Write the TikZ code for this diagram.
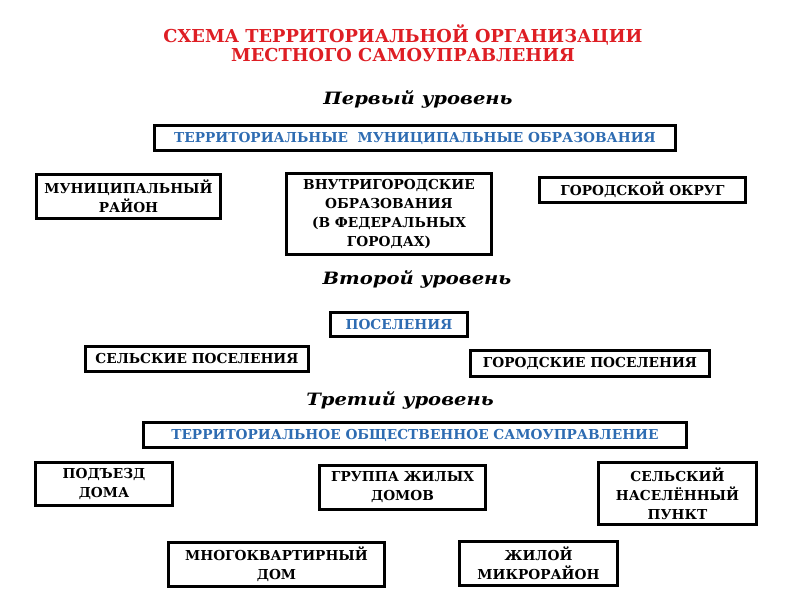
\documentclass[tikz,border=0pt]{standalone}
\usepackage{fontspec}
\setmainfont{DejaVu Serif}
\definecolor{titlered}{RGB}{222,30,36}
\definecolor{boxblue}{RGB}{46,108,178}

\begin{document}
\begin{tikzpicture}[x=1pt,y=-1pt,
  box/.style={draw,line width=2.6pt,inner sep=0pt,align=center,
    font=\bfseries\fontsize{13.7}{19}\selectfont},
  bluebox/.style={box,text=boxblue},
  level/.style={font=\bfseries\itshape\fontsize{17}{20}\selectfont,anchor=base,xscale=1.15}]
\useasboundingbox (0,0) rectangle (800,600);

% title
\node[font=\bfseries\fontsize{17.8}{19}\selectfont,text=titlered,align=center,anchor=base] (T)
  at (403,61) {СХЕМА ТЕРРИТОРИАЛЬНОЙ ОРГАНИЗАЦИИ\\МЕСТНОГО САМОУПРАВЛЕНИЯ};

% first level
\node[level] (L1) at (418,104) {Первый уровень};
\node[bluebox,minimum width=521.5,minimum height=25.5] (A) at (415,138)
  {ТЕРРИТОРИАЛЬНЫЕ\ \ МУНИЦИПАЛЬНЫЕ ОБРАЗОВАНИЯ};
\node[box,minimum width=184.5,minimum height=44.5] (A1) at (128.5,196.5)
  {МУНИЦИПАЛЬНЫЙ\\РАЙОН};
\node[box,minimum width=205.5,minimum height=81.5] (A2) at (389,214)
  {ВНУТРИГОРОДСКИЕ\\ОБРАЗОВАНИЯ\\(В ФЕДЕРАЛЬНЫХ\\ГОРОДАХ)};
\node[box,minimum width=206.5,minimum height=25.5] (A3) at (642.5,190)
  {ГОРОДСКОЙ ОКРУГ};

% second level
\node[level] (L2) at (417,284) {Второй уровень};
\node[bluebox,minimum width=137.5,minimum height=24.5] (B) at (399,324.5)
  {ПОСЕЛЕНИЯ};
\node[box,minimum width=223.5,minimum height=25.5] (B1) at (197,359)
  {СЕЛЬСКИЕ ПОСЕЛЕНИЯ};
\node[box,minimum width=239.5,minimum height=26.5] (B2) at (590,363.5)
  {ГОРОДСКИЕ ПОСЕЛЕНИЯ};

% third level
\node[level] (L3) at (400,405) {Третий уровень};
\node[bluebox,minimum width=543.5,minimum height=25.5] (C) at (415,435)
  {ТЕРРИТОРИАЛЬНОЕ ОБЩЕСТВЕННОЕ САМОУПРАВЛЕНИЕ};
\node[box,minimum width=137.5,minimum height=43.5] (C1) at (104,484)
  {ПОДЪЕЗД\\ДОМА};
\node[box,minimum width=166.5,minimum height=44.5] (C2) at (402.5,487.5)
  {ГРУППА ЖИЛЫХ\\ДОМОВ};
\node[box,minimum width=158.5,minimum height=62.5] (C3) at (677.5,493.5)
  {СЕЛЬСКИЙ\\НАСЕЛЁННЫЙ\\ПУНКТ};
\node[box,minimum width=216.5,minimum height=44.5] (C4) at (276.5,564.5)
  {МНОГОКВАРТИРНЫЙ\\ДОМ};
\node[box,minimum width=158.5,minimum height=44.5] (C5) at (538.5,563.5)
  {ЖИЛОЙ\\МИКРОРАЙОН};

\end{tikzpicture}
\end{document}
